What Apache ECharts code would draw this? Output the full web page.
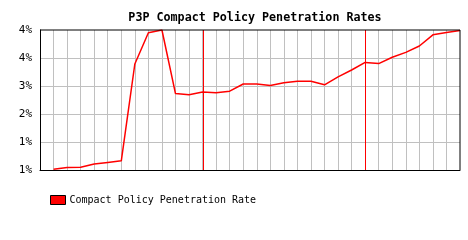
<!DOCTYPE html>
<html>
<head>
<meta charset="utf-8">
<script src="https://cdn.jsdelivr.net/npm/echarts@6/dist/echarts.min.js"></script>
<style>html,body{margin:0;padding:0;background:#fff}#c{width:468px;height:240px}</style>
</head>
<body>
<div id="c"></div>
<script>
const months = ['Jan 2002','Feb 2002','Mar 2002','Apr 2002','May 2002','Jun 2002','Jul 2002','Aug 2002','Sep 2002','Oct 2002','Nov 2002','Dec 2002',
  'Jan 2003','Feb 2003','Mar 2003','Apr 2003','May 2003','Jun 2003','Jul 2003','Aug 2003','Sep 2003','Oct 2003','Nov 2003','Dec 2003',
  'Jan 2004','Feb 2004','Mar 2004','Apr 2004','May 2004','Jun 2004','Jul 2004','Aug 2004'];
const penetration = [null,0.72,0.76,0.77,0.85,0.89,0.93,3.35,4.13,4.2,2.61,2.58,2.65,2.63,2.67,2.85,2.85,2.81,2.88,2.92,2.92,2.83,3.03,3.2,3.39,3.36,3.52,3.64,3.8,4.08,4.14,4.19];
const yearMarks = ['Jan 2003','Jan 2004'];
const yTickLabels = ['1%','1%','2%','3%','4%','4%'];
const seriesName = 'Compact Policy Penetration Rate';
const titleText = 'P3P Compact Policy Penetration Rates';
const yMin = 0.7, yMax = 4.2, yStep = 0.7;

const chart = echarts.init(document.getElementById('c'), null, {renderer:'canvas'});
chart.setOption({
  animation:false,
  backgroundColor:'#fff',
  title:{text:titleText,left:250,textAlign:'center',top:7,textStyle:{fontFamily:'DejaVu Sans Mono',fontWeight:'bold',fontSize:11.7,color:'#000'}},
  legend:{left:45,top:190,itemWidth:15,itemHeight:9,itemGap:4,icon:'rect',
    textStyle:{fontFamily:'DejaVu Sans Mono',fontSize:10,color:'#000',padding:[0,0,0,-1]},
    itemStyle:{borderColor:'#000',borderWidth:1},
    data:[seriesName]},
  grid:{left:40,right:8,top:30,bottom:70,show:false},
  xAxis:{type:'category',data:months,boundaryGap:false,
    axisLine:{show:true,lineStyle:{color:'#000',width:1}},
    axisTick:{show:false,interval:0},axisLabel:{show:false,interval:0},
    splitLine:{show:true,interval:0,showMinLine:false,showMaxLine:false,lineStyle:{color:'#c0c0c0',width:1}}},
  yAxis:{type:'value',min:yMin,max:yMax,interval:yStep,
    axisLine:{show:true,lineStyle:{color:'#000',width:1}},
    axisTick:{show:false},
    axisLabel:{fontFamily:'DejaVu Sans Mono',fontSize:11,color:'#000',margin:8,
      formatter:(v,i)=>yTickLabels[i]},
    splitLine:{show:true,showMinLine:false,showMaxLine:false,lineStyle:{color:'#c0c0c0',width:1}}},
  series:[{name:seriesName,type:'line',data:penetration,showSymbol:false,symbol:'none',
    connectNulls:false,z:5,
    lineStyle:{color:'#ff0000',width:1.5},itemStyle:{color:'#ff0000'}}]
});
const p0 = chart.convertToPixel({gridIndex:0},[0,yMax]);
const p1 = chart.convertToPixel({gridIndex:0},[months.length-1,yMin]);
const graphics = [
  {type:'line',shape:{x1:p0[0],y1:p0[1],x2:p1[0],y2:p0[1]},style:{stroke:'#000',lineWidth:1},z:10},
  {type:'line',shape:{x1:p1[0],y1:p0[1],x2:p1[0],y2:p1[1]},style:{stroke:'#000',lineWidth:1},z:10}
];
yearMarks.forEach(m=>{
  const x = Math.round(chart.convertToPixel({xAxisIndex:0},m)) + 0.5;
  graphics.push({type:'line',silent:true,shape:{x1:x,y1:p0[1],x2:x,y2:p1[1]},style:{stroke:'#ff0000',lineWidth:1},z:1});
});
chart.setOption({graphic:graphics});
</script>
</body>
</html>
